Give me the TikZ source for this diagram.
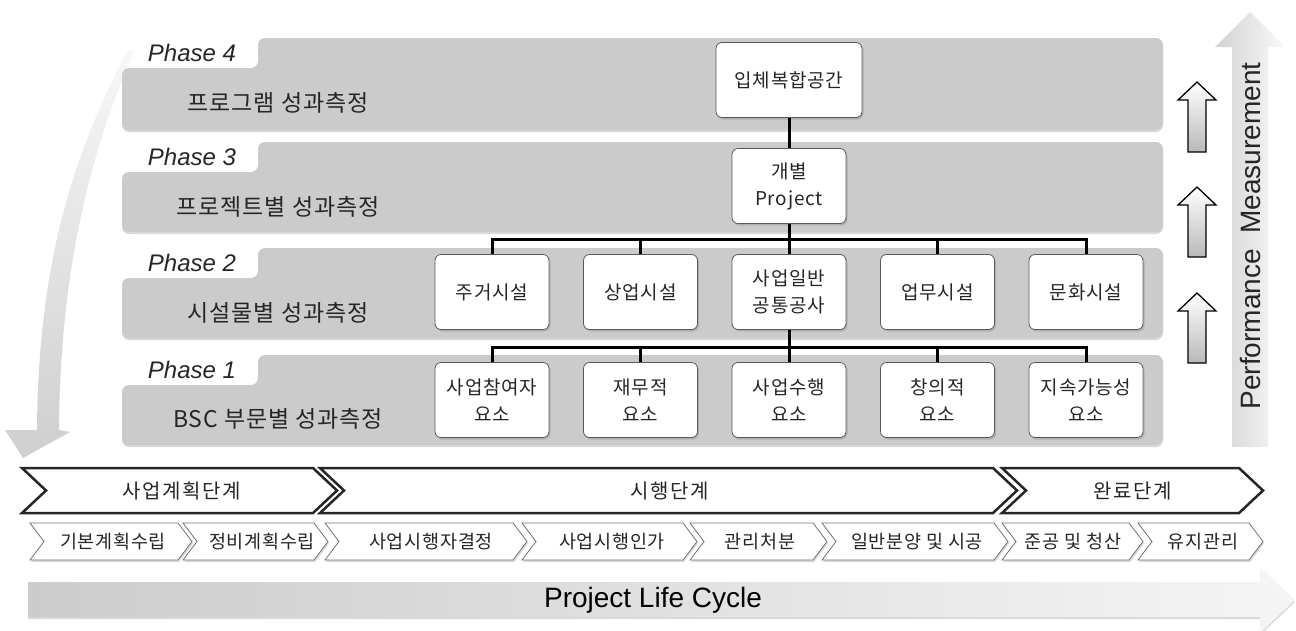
\documentclass[tikz,border=0pt]{standalone}
\usepackage{fontspec}
\usepackage{xcolor}
\usepackage{tikz}
\setmainfont{Noto Sans CJK KR}[LetterSpace=4]
\newfontfamily\stagefont{Noto Sans CJK KR}[LetterSpace=8]
\newfontfamily\latinfont{Liberation Sans}
\usetikzlibrary{shadows}
\usetikzlibrary{positioning}
\usetikzlibrary{calc}

\definecolor{bandgray}{HTML}{CBCBCB}
\definecolor{inkgray}{HTML}{262626}

\tikzset{
  band/.style={fill=bandgray, rounded corners=7pt,
    drop shadow={opacity=0.3, shadow xshift=0pt, shadow yshift=-2pt}},
  phaselabel/.style={font=\latinfont\itshape\fontsize{24}{24}\selectfont, text=inkgray},
  bandtitle/.style={font=\fontsize{23}{23}\selectfont, text=inkgray},
  box/.style={draw=black!65, fill=white, rounded corners=6pt, line width=0.8pt,
    minimum width=114pt, minimum height=75pt, align=center, inner sep=2pt,
    font=\fontsize{19}{27}\selectfont, text=inkgray,
    drop shadow={opacity=0.35, shadow xshift=1.5pt, shadow yshift=-2pt}},
  conn/.style={line width=3pt},
  uparrow/.style={draw=black, line width=1.3pt, top color=white, bottom color=gray!55},
  stagebox/.style={draw=black!85, line width=2.5pt, fill=white},
  stagetext/.style={font=\stagefont\fontsize{20}{20}\selectfont, text=inkgray},
  taskbox/.style={draw=black!55, line width=0.8pt, fill=white,
    drop shadow={opacity=0.3, shadow xshift=1pt, shadow yshift=-2pt}},
  tasktext/.style={font=\fontsize{18.5}{18.5}\selectfont, text=inkgray},
}

\begin{document}
\begin{tikzpicture}[x=1pt, y=-1pt]
\useasboundingbox (0,0) rectangle (1296,630);

% curved arrow on the left
\shade[top color=gray!6, bottom color=gray!38]
  (128,50) .. controls (75,150) and (38,260) .. (37,430) -- (5,430) -- (23,458)
  -- (70,432) -- (59,430) .. controls (60,260) and (95,140) .. (134,52) -- cycle;

% phase bands
\foreach \t/\b in {38/130, 142/232, 248/338, 355/445}
  \fill[band] (122,\b) -- (122,\t+30) -- (258,\t+30) -- (258,\t) -- (1163,\t) -- (1163,\b) -- cycle;

\node[phaselabel] (ph4) at (192,53) {Phase 4};
\node[phaselabel] (ph3) at (192,157) {Phase 3};
\node[phaselabel] (ph2) at (192,263) {Phase 2};
\node[phaselabel] (ph1) at (192,370) {Phase 1};

\node[bandtitle] (t4) at (278,103) {프로그램 성과측정};
\node[bandtitle] (t3) at (278,207) {프로젝트별 성과측정};
\node[bandtitle] (t2) at (278,313) {시설물별 성과측정};
\node[bandtitle] (t1) at (278,419) {BSC 부문별 성과측정};

% hierarchy
\node[box, minimum width=146pt] (prog) at (789,80) {입체복합공간};
\node[box] (proj) at (789,186) {개별\\Project};

\node[box] (f1) at (492,292) {주거시설};
\node[box] (f2) at (640.5,292) {상업시설};
\node[box] (f3) at (789,292) {사업일반\\공통공사};
\node[box] (f4) at (937.5,292) {업무시설};
\node[box] (f5) at (1086,292) {문화시설};

\node[box] (e1) at (492,400) {사업참여자\\요소};
\node[box] (e2) at (640.5,400) {재무적\\요소};
\node[box] (e3) at (789,400) {사업수행\\요소};
\node[box] (e4) at (937.5,400) {창의적\\요소};
\node[box] (e5) at (1086,400) {지속가능성\\요소};

\coordinate (bar3) at (789,239);
\coordinate (bar2) at (789,347);
\draw[conn] (prog) -- (proj);
\foreach \i in {1,...,5}
  \draw[conn] (proj.south) -- (bar3) -| (f\i.north);
\foreach \i in {1,...,5}
  \draw[conn] (f3.south) -- (bar2) -| (e\i.north);

% upward arrows
\foreach \y in {82,187,293}
  \draw[uparrow] (1188,\y+70) -- (1188,\y+18) -- (1178,\y+18) -- (1197,\y)
    -- (1216,\y+18) -- (1206,\y+18) -- (1206,\y+70) -- cycle;

% performance measurement arrow
\shade[left color=gray!35, right color=gray!5]
  (1232,447) -- (1232,47) -- (1215,47) -- (1250,12) -- (1285,47) -- (1268,47) -- (1268,447) -- cycle;
\node[font=\latinfont\fontsize{28}{28}\selectfont, text=inkgray, rotate=90] (perf) at (1250,236)
  {Performance\ \ Measurement};

% stages
\foreach \a/\b in {22/337, 320/1017, 1002/1263}
  \draw[stagebox] (\a,468) -- (\b-24,468) -- (\b,490.5) -- (\b-24,513) -- (\a,513) -- (\a+24,490.5) -- cycle;
\node[stagetext] (s1) at (182,491) {사업계획단계};
\node[stagetext] (s2) at (670,491) {시행단계};
\node[stagetext] (s3) at (1133,491) {완료단계};

% tasks
\foreach \a/\b in {30/192, 183/328, 325/527, 522/697, 690/827, 822/1008, 1002/1143, 1138/1263}
  \draw[taskbox] (\a,523) -- (\b-14,523) -- (\b,541.5) -- (\b-14,560) -- (\a,560) -- (\a+14,541.5) -- cycle;
\node[tasktext] (k1) at (113,542) {기본계획수립};
\node[tasktext] (k2) at (262,542) {정비계획수립};
\node[tasktext] (k3) at (431,542) {사업시행자결정};
\node[tasktext] (k4) at (612,542) {사업시행인가};
\node[tasktext] (k5) at (760,542) {관리처분};
\node[tasktext] (k6) at (917,542) {일반분양 및 시공};
\node[tasktext] (k7) at (1073,542) {준공 및 청산};
\node[tasktext] (k8) at (1203,542) {유지관리};

% life cycle arrow
\shade[left color=gray!40, right color=gray!8,
  drop shadow={opacity=0.3, shadow xshift=0pt, shadow yshift=-2pt}]
  (28,582) -- (1260,582) -- (1260,567) -- (1295,600) -- (1260,633) -- (1260,617) -- (28,617) -- cycle;
\node[font=\latinfont\fontsize{28}{28}\selectfont, text=black] (life) at (653,600) {Project Life Cycle};
\end{tikzpicture}
\end{document}
